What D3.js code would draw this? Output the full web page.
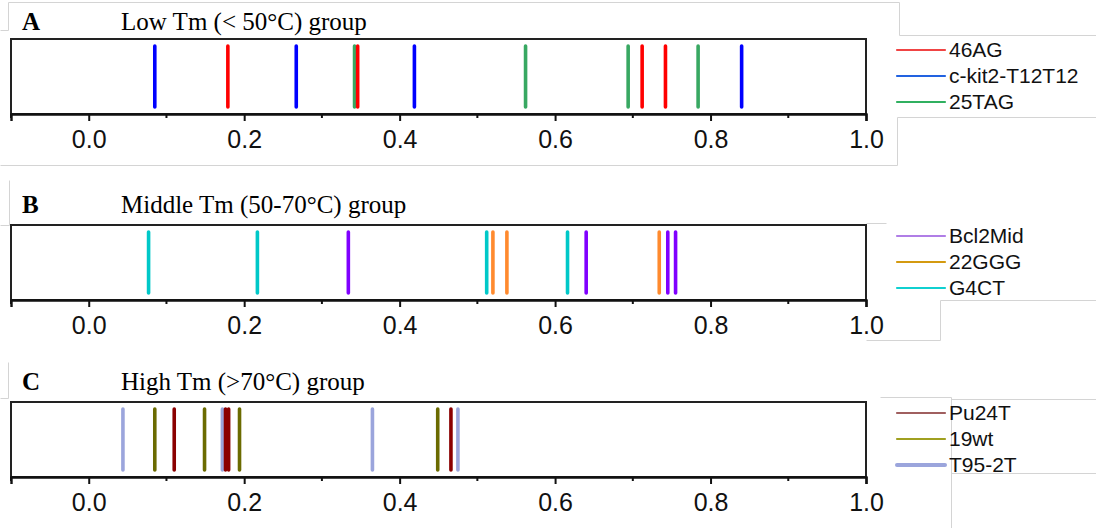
<!DOCTYPE html>
<html>
<head>
<meta charset="utf-8">
<script src="https://cdn.jsdelivr.net/npm/d3@7"></script>
<style>
  body { margin: 0; background: #fff; }
  svg { display: block; }
</style>
</head>
<body>
<script>
// 画布
var svg_width = 1096;
var svg_height = 528;

// 三个分组的标题
var group_letters = ["A", "B", "C"];
var group_titles = ["Low Tm (< 50\u00B0C) group", "Middle Tm (50-70\u00B0C) group", "High Tm (>70\u00B0C) group"];

// 数轴刻度
var major_ticks = [0.0, 0.2, 0.4, 0.6, 0.8, 1.0];
var minor_ticks = [-0.1, 0.1, 0.3, 0.5, 0.7, 0.9];
var x_domain = [-0.1, 1.0];

// A 组
var low_names = ["46AG", "c-kit2-T12T12", "25TAG"];
var low_46AG = [0.179, 0.346, 0.712, 0.742];
var low_ckit2 = [0.085, 0.267, 0.419, 0.840];
var low_25TAG = [0.342, 0.562, 0.694, 0.784];

// B 组
var mid_names = ["Bcl2Mid", "22GGG", "G4CT"];
var mid_Bcl2Mid = [0.334, 0.640, 0.745, 0.755];
var mid_22GGG = [0.520, 0.538, 0.734];
var mid_G4CT = [0.077, 0.217, 0.512, 0.616];

// C 组
var high_names = ["Pu24T", "19wt", "T95-2T"];
var high_Pu24T = [0.110, 0.176, 0.180, 0.466];
var high_19wt = [0.085, 0.149, 0.194, 0.449];
var high_T952T = [0.044, 0.172, 0.365, 0.475];

// 颜色（线条 / 图例）
var line_colors = [
    ["#ff0000", "#0000ff", "#38a862"],
    ["#8000ff", "#ff8a2e", "#00c8c8"],
    ["#8b0000", "#6b6b00", "#9ba5dc"]
];
var legend_colors = [
    ["#f04444", "#2262e0", "#30b060"],
    ["#b07ee6", "#d49a10", "#10d0d0"],
    ["#a05f5f", "#a0a020", "#9ba5dc"]
];

var panels = [
    { names: low_names, series: [low_46AG, low_ckit2, low_25TAG] },
    { names: mid_names, series: [mid_Bcl2Mid, mid_22GGG, mid_G4CT] },
    { names: high_names, series: [high_Pu24T, high_19wt, high_T952T] }
];

// 布局
var box_left = 11, box_right = 866;
var box_tops = [39, 225, 402];
var box_h = 75;
var title_base = [30, 213, 390];

var x = d3.scaleLinear().domain(x_domain).range([box_left, box_right]);

var svg = d3.select("body").append("svg")
    .attr("width", svg_width).attr("height", svg_height);

// 截图留下的浅灰色边框
var frame = [
    [8, 2, 899, 2], [8, 2, 8, 30], [0, 30, 8, 30], [899, 2, 899, 35], [899, 35, 1096, 35],
    [897, 117, 1096, 117], [897, 117, 897, 165], [0, 165, 897, 165],
    [9, 180, 9, 225], [0, 225, 9, 225], [866, 223, 886, 223],
    [940, 300, 940, 340], [866, 340, 940, 340], [940, 300, 1096, 300],
    [8, 362, 8, 398], [0, 398, 8, 398], [880, 397, 951, 397], [951, 397, 951, 528],
    [951, 399, 1096, 399], [951, 473, 1096, 473]
];
svg.append("g").selectAll("line").data(frame).enter().append("line")
    .attr("x1", function(d) { return d[0] + 0.5; })
    .attr("y1", function(d) { return d[1] + 0.5; })
    .attr("x2", function(d) { return d[2] + 0.5; })
    .attr("y2", function(d) { return d[3] + 0.5; })
    .attr("stroke", "#d4d4d4").attr("stroke-width", 1);

panels.forEach(function(p, k) {
    var top = box_tops[k];
    var bottom = top + box_h;
    var g = svg.append("g");

    // 标题
    g.append("text").attr("x", 22).attr("y", title_base[k])
        .attr("font-family", "'Liberation Serif', 'Times New Roman', serif")
        .attr("font-weight", "bold").attr("font-size", 25)
        .text(group_letters[k]);
    g.append("text").attr("x", 121).attr("y", title_base[k])
        .attr("font-family", "'Liberation Serif', 'Times New Roman', serif")
        .attr("font-size", 25)
        .text(group_titles[k]);

    // 数据竖线：倒序画，让第一个系列在最上面
    for (var s = p.series.length - 1; s >= 0; s--) {
        g.append("g").selectAll("line").data(p.series[s]).enter().append("line")
            .attr("x1", function(d) { return x(d); })
            .attr("x2", function(d) { return x(d); })
            .attr("y1", top + 7).attr("y2", bottom - 7)
            .attr("stroke", line_colors[k][s])
            .attr("stroke-width", 3.6)
            .attr("stroke-linecap", "round");
    }

    // 外框
    g.append("rect").attr("x", box_left).attr("y", top)
        .attr("width", box_right - box_left).attr("height", box_h)
        .attr("fill", "none").attr("stroke", "#222").attr("stroke-width", 2);

    // 数轴
    var axis = d3.axisBottom(x).tickValues(major_ticks)
        .tickSize(7).tickPadding(9)
        .tickFormat(d3.format(".1f"));
    var ax = g.append("g").attr("transform", "translate(0," + bottom + ")").call(axis);
    ax.select(".domain").attr("stroke", "#111").attr("stroke-width", 2.4);
    ax.selectAll(".tick line").attr("stroke", "#111").attr("stroke-width", 2);
    ax.selectAll(".tick text")
        .attr("font-family", "'Liberation Sans', Arial, sans-serif")
        .attr("font-size", 25).attr("fill", "#111");

    g.append("g").selectAll("line").data(minor_ticks).enter().append("line")
        .attr("x1", function(d) { return x(d); })
        .attr("x2", function(d) { return x(d); })
        .attr("y1", bottom).attr("y2", bottom + 4)
        .attr("stroke", "#111").attr("stroke-width", 2);

    // 图例
    var leg = g.append("g").selectAll("g").data(p.names).enter().append("g")
        .attr("transform", function(d, i) { return "translate(0," + (top + 11 + i * 26) + ")"; });
    leg.append("line").attr("x1", 897).attr("x2", 945).attr("y1", 0).attr("y2", 0)
        .attr("stroke", function(d, i) { return legend_colors[k][i]; })
        .attr("stroke-width", function(d, i) { return (k == 2 && i == 2) ? 4 : 2.2; })
        .attr("stroke-linecap", "round");
    leg.append("text").attr("x", 949).attr("y", 0).attr("dy", "0.35em")
        .attr("font-family", "'Liberation Sans', Arial, sans-serif")
        .attr("font-size", 21).attr("fill", "#111")
        .text(function(d) { return d; });
});
</script>
</body>
</html>
